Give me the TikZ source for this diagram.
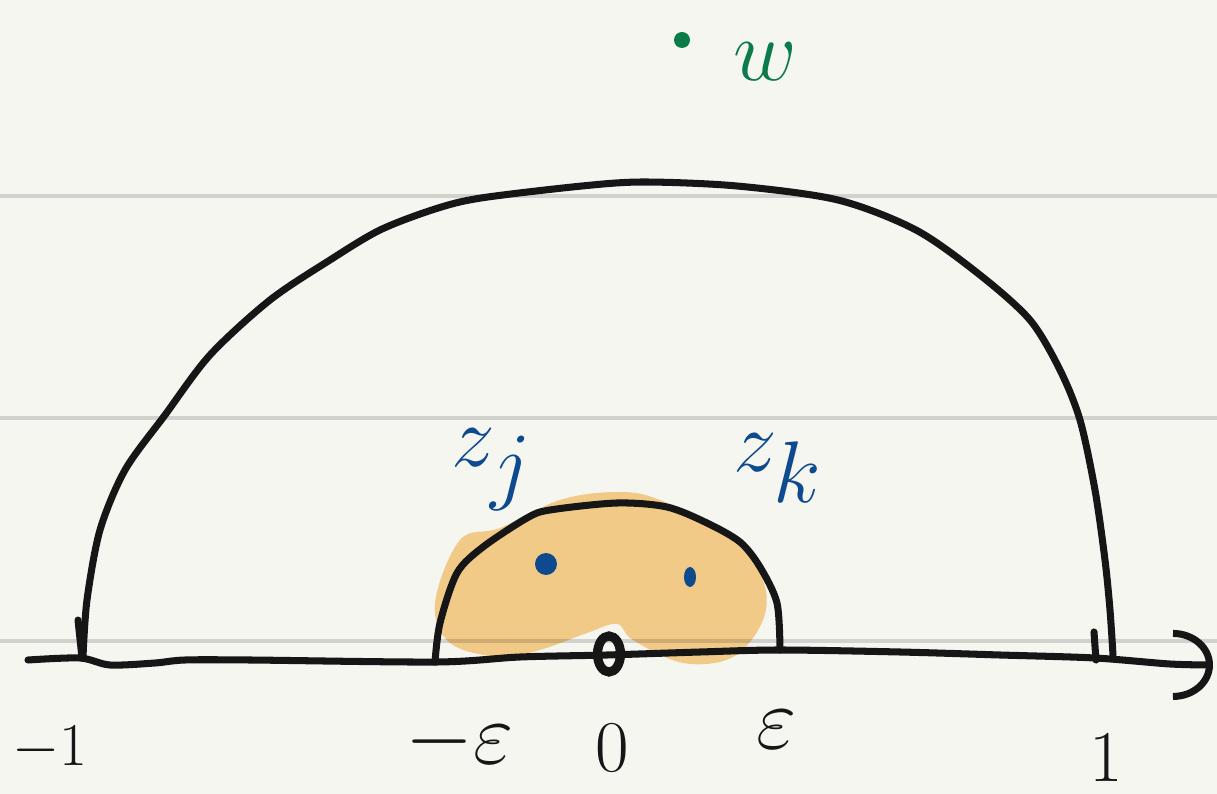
\documentclass[tikz,border=0pt]{standalone}
\usepackage{amsmath}
\usetikzlibrary{arrows.meta, positioning, shapes.geometric}
\definecolor{paperBg}{HTML}{F6F6F1}
\definecolor{inkBlack}{HTML}{161616}
\definecolor{blobOrange}{HTML}{F2CA88}
\definecolor{ptBlue}{HTML}{0E4A8E}
\definecolor{wGreen}{HTML}{0B7B4A}

\begin{document}
\begin{tikzpicture}[
    x=0.01cm, y=-0.01cm,
    ink/.style={draw=inkBlack, line width=2pt, line cap=round, line join=round},
    ruled/.style={draw=black, draw opacity=0.15, line width=1.4pt},
    axisline/.style={ink, -{Arc Barb[length=4mm, width=7mm]}},
    ticklabel/.style={inner sep=0pt, text=inkBlack},
    ptlabel/.style={inner sep=0pt, text=ptBlue, font=\fontsize{38}{40}\selectfont}
]

% paper
\fill[paperBg] (0,0) rectangle (1217,794);
\useasboundingbox (0,0) rectangle (1217,794);

% shaded region round z_j, z_k
\fill[blobOrange] plot[smooth cycle, tension=0.6] coordinates {
  (435,603) (460,540) (500,528) (560,500) (617,492) (660,500) (733,537)
  (763,580) (763,620) (733,657) (683,663) (633,640) (617,624) (587,633)
  (540,650) (500,657) (450,643)};

% ruled lines
\foreach \ry in {196,418,641}
  \draw[ruled] (0,\ry) -- (1217,\ry);

% real axis
\coordinate (axL) at (28,660);
\coordinate (axR) at (1213,665);
\draw[axisline] plot[smooth, tension=0.5] coordinates {
  (axL) (80,658) (110,665) (155,663) (185,660) (250,660) (437,662)
  (520,657) (607,655) (700,652) (780,650) (900,652) (1000,655)
  (1095,658) (1170,664) (axR)};

% big half circle
\draw[ink] plot[smooth, tension=0.5] coordinates {
  (83,657) (87,600) (100,530) (125,470) (165,415) (210,355) (270,300)
  (330,260) (380,230) (435,209) (481,198) (582,186) (644,182) (737,186)
  (838,200) (916,230) (980,275) (1030,320) (1060,370) (1080,420)
  (1095,490) (1105,560) (1110,610) (1113,655)};
\draw[ink] (78,620) -- (82,658);
\draw[ink] (1094,632) -- (1096,660);

% small half circle
\draw[ink] plot[smooth, tension=0.5] coordinates {
  (435,662) (440,623) (457,573) (483,547) (527,518) (550,510) (617,503)
  (667,507) (707,523) (740,542) (760,567) (777,603) (780,650)};

% origin
\node[draw=inkBlack, line width=2.6pt, ellipse, minimum width=0.23cm, minimum height=0.36cm,
      inner sep=0pt] (orig) at (609,654) {};

% points z_j, z_k and w
\fill[ptBlue] (546,564) circle (11);
\fill[ptBlue] (690,577) ellipse (6 and 10);
\fill[wGreen] (682,40) circle (8);

% labels
\node[ptlabel] (zj) at (492,470) {$z_j$};
\node[ptlabel] (zk) at (778,468) {$z_k$};
\node[inner sep=0pt, text=wGreen, font=\fontsize{40}{42}\selectfont] (w) at (765,62) {$w$};

\node[ticklabel, font=\fontsize{18}{20}\selectfont] (lm1) at (50,748) {$-1$};
\node[ticklabel, font=\fontsize{28}{30}\selectfont] (lme) at (460,742) {$-\varepsilon$};
\node[ticklabel, font=\fontsize{22}{24}\selectfont] (l0) at (612,748) {$0$};
\node[ticklabel, font=\fontsize{28}{30}\selectfont] (le) at (777,730) {$\varepsilon$};
\node[ticklabel, font=\fontsize{22}{24}\selectfont] (l1) at (1106,758) {$1$};

\end{tikzpicture}
\end{document}
